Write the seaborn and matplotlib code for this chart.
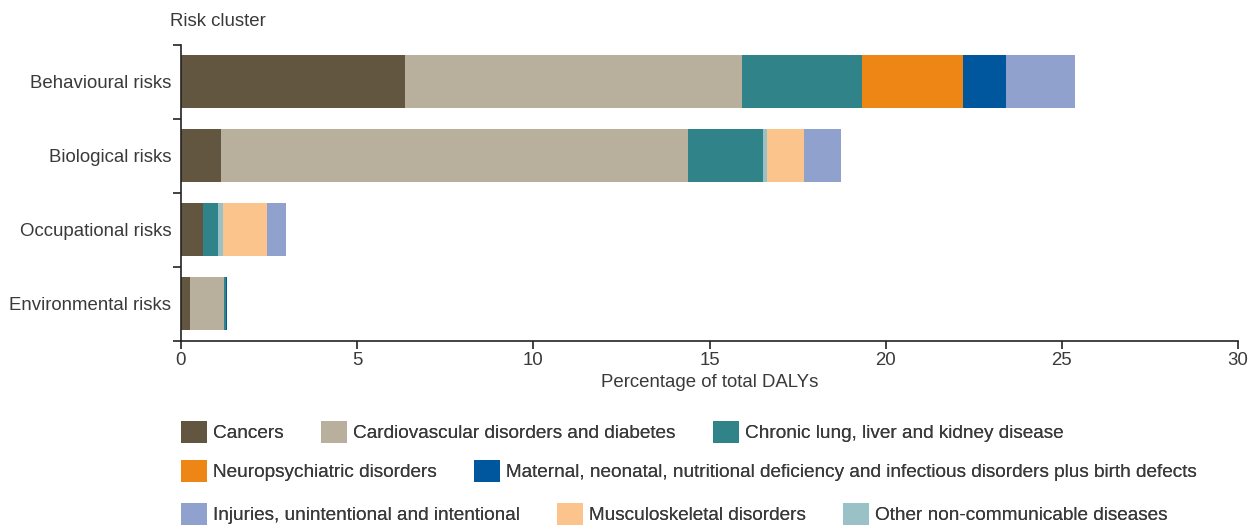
import numpy as np
import pandas as pd
import matplotlib
matplotlib.use("Agg")
import matplotlib.pyplot as plt
import seaborn as sns
from matplotlib.patches import Patch

categories = ["Behavioural risks", "Biological risks", "Occupational risks", "Environmental risks"]

cancers = [6.37, 1.14, 0.63, 0.26]
cardio = [9.56, 13.26, 0.00, 0.97]
chronic = [3.40, 2.13, 0.43, 0.04]
neuro = [2.87, 0.00, 0.00, 0.00]
maternal = [1.22, 0.00, 0.00, 0.04]
other_ncd = [0.00, 0.11, 0.14, 0.00]
musculo = [0.00, 1.05, 1.25, 0.00]
injuries = [1.96, 1.05, 0.54, 0.00]

series_names = [
    "Cancers",
    "Cardiovascular disorders and diabetes",
    "Chronic lung, liver and kidney disease",
    "Neuropsychiatric disorders",
    "Maternal, neonatal, nutritional deficiency and infectious disorders plus birth defects",
    "Other non-communicable diseases",
    "Musculoskeletal disorders",
    "Injuries, unintentional and intentional",
]
series_values = [cancers, cardio, chronic, neuro, maternal, other_ncd, musculo, injuries]
colors = ["#625640", "#b8b09c", "#31838a", "#ee8616", "#00579d", "#9ac2c6", "#fac48c", "#8fa1cc"]

legend_rows = [
    ["Cancers", "Cardiovascular disorders and diabetes", "Chronic lung, liver and kidney disease"],
    ["Neuropsychiatric disorders",
     "Maternal, neonatal, nutritional deficiency and infectious disorders plus birth defects"],
    ["Injuries, unintentional and intentional", "Musculoskeletal disorders", "Other non-communicable diseases"],
]

sns.set_style("white")
plt.rcParams["font.family"] = ["Liberation Sans", "DejaVu Sans"]
text_color = "#3a3a3a"
fs = 13.4
lfs = 13.7

fig = plt.figure(figsize=(12.53, 5.25), dpi=100)
ax = fig.add_axes([181 / 1253, 1 - 340.7 / 525, (1238 - 181) / 1253, (340.7 - 44.7) / 525])

vals = np.array(series_values)
cum = np.cumsum(vals, axis=0)
for i in range(len(series_names) - 1, -1, -1):
    df = pd.DataFrame({"cat": categories, "val": cum[i]})
    sns.barplot(data=df, x="val", y="cat", order=categories, color=colors[i],
                saturation=1, width=0.72, orient="h", ax=ax, edgecolor="none", linewidth=0)

ax.set_xlim(0, 30)
ax.set_ylim(3.5, -0.5)
ax.set_xticks([0, 5, 10, 15, 20, 25, 30])
ax.set_yticks([-0.5, 0.5, 1.5, 2.5, 3.5])
ax.set_yticklabels([])
ax.set_yticks([0, 1, 2, 3], minor=True)
ax.set_yticklabels(categories, minor=True)
ax.tick_params(axis="y", which="major", direction="out", length=6, width=1.2, color="#222222", left=True)
ax.tick_params(axis="y", which="minor", length=0, pad=7, labelsize=fs, labelcolor=text_color)
ax.tick_params(axis="x", direction="out", length=6, width=1.2, color="#222222", bottom=True,
               labelsize=fs, labelcolor=text_color, pad=2)
for s in ["top", "right"]:
    ax.spines[s].set_visible(False)
for s in ["left", "bottom"]:
    ax.spines[s].set_color("#222222")
    ax.spines[s].set_linewidth(1.2)
ax.set_ylabel("")
ax.set_xlabel("Percentage of total DALYs", fontsize=fs, color=text_color, labelpad=4)

fig.text(170 / 1253, 1 - 21 / 525, "Risk cluster", fontsize=fs, color=text_color, ha="left", va="center")

color_map = dict(zip(series_names, colors))
row_y = [1 - 432 / 525, 1 - 471 / 525, 1 - 514 / 525]
for labels, y in zip(legend_rows, row_y):
    handles = [Patch(facecolor=color_map[l], edgecolor="none") for l in labels]
    leg = fig.legend(handles, labels, loc="center left", bbox_to_anchor=(181 / 1253, y),
                     ncol=len(labels), frameon=False, fontsize=lfs, handlelength=1.37,
                     handleheight=1.37, handletextpad=0.32, columnspacing=1.95,
                     borderpad=0, borderaxespad=0)
    for t in leg.get_texts():
        t.set_color(text_color)
    fig.add_artist(leg)

fig.savefig("out.png", dpi=100)
